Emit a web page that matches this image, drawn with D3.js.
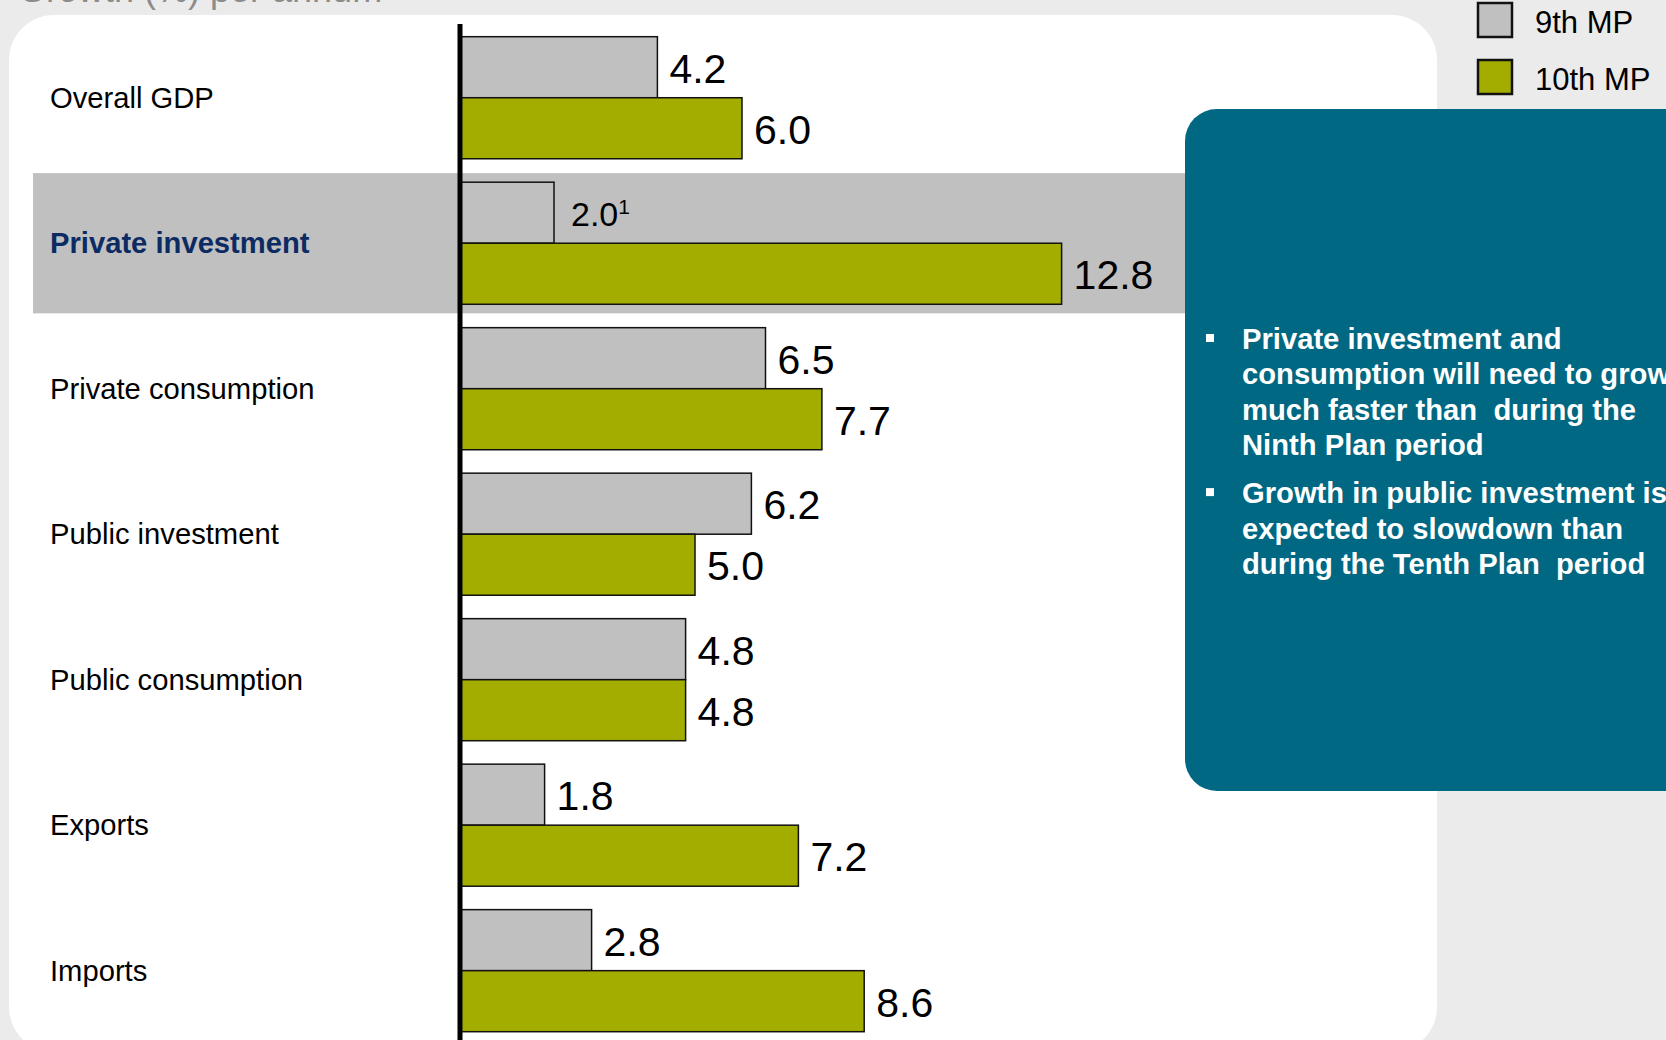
<!DOCTYPE html>
<html>
<head>
<meta charset="utf-8">
<script src="https://cdn.jsdelivr.net/npm/d3@7"></script>
<style>
  html, body { margin: 0; padding: 0; background: #ebebeb; }
  svg { display: block; }
  text { font-family: "Liberation Sans", Arial, Helvetica, sans-serif; }
</style>
</head>
<body>
<script>
// Growth rates (% per annum), 9th vs 10th Malaysia Plan
const categories = ["Overall GDP", "Private investment", "Private consumption",
                    "Public investment", "Public consumption", "Exports", "Imports"];
const seriesNames = ["9th MP", "10th MP"];
const mp9Values  = [4.2, 2.0, 6.5, 6.2, 4.8, 1.8, 2.8];
const mp10Values = [6.0, 12.8, 7.7, 5.0, 4.8, 7.2, 8.6];
const mp9Notes   = ["", "1", "", "", "", "", ""];
const highlightedCategory = "Private investment";
const titleText = "Growth (%) per annum";
const bulletPoints = [
  ["Private investment and", "consumption will need to grow", "much faster than  during the", "Ninth Plan period"],
  ["Growth in public investment is", "expected to slowdown than", "during the Tenth Plan  period"]
];

const W = 1666, H = 1040;
const colors = { "9th MP": "#c0c0c0", "10th MP": "#a3ad00" };

const rows = categories.map((c, i) => ({
  category: c,
  values: [
    { series: seriesNames[0], value: mp9Values[i], note: mp9Notes[i] },
    { series: seriesNames[1], value: mp10Values[i], note: "" }
  ]
}));

const svg = d3.select("body").append("svg")
  .attr("width", W).attr("height", H);

// page background
svg.append("rect").attr("width", W).attr("height", H).attr("fill", "#ebebeb");

// title, running off the top edge
svg.append("text")
  .attr("x", 18).attr("y", 1.5)
  .attr("font-size", 36).attr("fill", "#8c8c8c")
  .text(titleText);

// white chart panel
svg.append("rect")
  .attr("x", 9).attr("y", 15).attr("width", 1428).attr("height", 1037)
  .attr("rx", 45).attr("ry", 45).attr("fill", "#ffffff");

// scales
const x = d3.scaleLinear().domain([0, 12.8]).range([460, 460 + 12.8 * 47]);
const y = d3.scaleBand().domain(categories).range([36.7, 1031.7])
  .paddingInner(0.161).paddingOuter(0);
const ySeries = d3.scaleBand().domain(seriesNames).range([0, y.bandwidth()]).padding(0);

// highlight band behind the emphasised category
const hc = y(highlightedCategory) + y.bandwidth() / 2;
const hHalf = y.step() * 0.482;
svg.append("rect")
  .attr("x", 33).attr("y", hc - hHalf)
  .attr("width", 1200 - 33).attr("height", hHalf * 2)
  .attr("fill", "#c0c0c0");

// commentary box
svg.append("rect")
  .attr("x", 1185).attr("y", 109).attr("width", 600).attr("height", 791 - 109)
  .attr("rx", 32).attr("ry", 32).attr("fill", "#006882");

const bulletG = svg.append("g").attr("fill", "#ffffff");
const lineH = 35.4;
let baseY = 349;
bulletPoints.forEach((lines) => {
  bulletG.append("rect")
    .attr("x", 1206).attr("y", baseY - 15).attr("width", 8).attr("height", 8);
  lines.forEach((ln, j) => {
    bulletG.append("text")
      .attr("x", 1242).attr("y", baseY + j * lineH)
      .attr("font-size", 29.2).attr("font-weight", "bold")
      .style("white-space", "pre")
      .text(ln);
  });
  baseY += lines.length * lineH + 12.5;
});

// bars
const groups = svg.append("g").selectAll("g.row")
  .data(rows).join("g")
  .attr("class", "row")
  .attr("transform", d => `translate(0,${y(d.category)})`);

groups.selectAll("rect.bar")
  .data(d => d.values).join("rect")
  .attr("class", "bar")
  .attr("x", x(0))
  .attr("y", d => ySeries(d.series))
  .attr("width", d => x(d.value) - x(0))
  .attr("height", ySeries.bandwidth())
  .attr("fill", d => colors[d.series])
  .attr("stroke", "#111")
  .attr("stroke-width", 1.5);

// value labels
groups.selectAll("text.val")
  .data(d => d.values).join("text")
  .attr("class", "val")
  .attr("x", d => x(d.value) + (d.note ? 17 : 12))
  .attr("y", d => ySeries(d.series) + ySeries.bandwidth() / 2 + (d.note ? 13 : 15.5))
  .attr("font-size", d => d.note ? 34 : 41)
  .attr("fill", "#000")
  .each(function (d) {
    const t = d3.select(this);
    t.append("tspan").text(d3.format(".1f")(d.value));
    if (d.note) {
      t.append("tspan").attr("dy", -12).attr("font-size", 21).text(d.note);
    }
  });

// category labels
svg.append("g").selectAll("text.cat")
  .data(categories).join("text")
  .attr("class", "cat")
  .attr("x", 50)
  .attr("y", d => y(d) + y.bandwidth() / 2 + 10)
  .attr("font-size", 29.2)
  .attr("font-weight", d => d === highlightedCategory ? "bold" : "normal")
  .attr("fill", d => d === highlightedCategory ? "#0c2b63" : "#000")
  .text(d => d);

// vertical axis line at zero
svg.append("line")
  .attr("x1", x(0)).attr("x2", x(0))
  .attr("y1", 24).attr("y2", H)
  .attr("stroke", "#000").attr("stroke-width", 5);

// legend
const legend = svg.append("g").selectAll("g.leg")
  .data(seriesNames).join("g")
  .attr("class", "leg")
  .attr("transform", (d, i) => `translate(1478,${3 + i * 57})`);
legend.append("rect")
  .attr("width", 34).attr("height", 34)
  .attr("fill", d => colors[d])
  .attr("stroke", "#111").attr("stroke-width", 2.5);
legend.append("text")
  .attr("x", 57).attr("y", 30)
  .attr("font-size", 31).attr("fill", "#000")
  .text(d => d);
</script>
</body>
</html>
